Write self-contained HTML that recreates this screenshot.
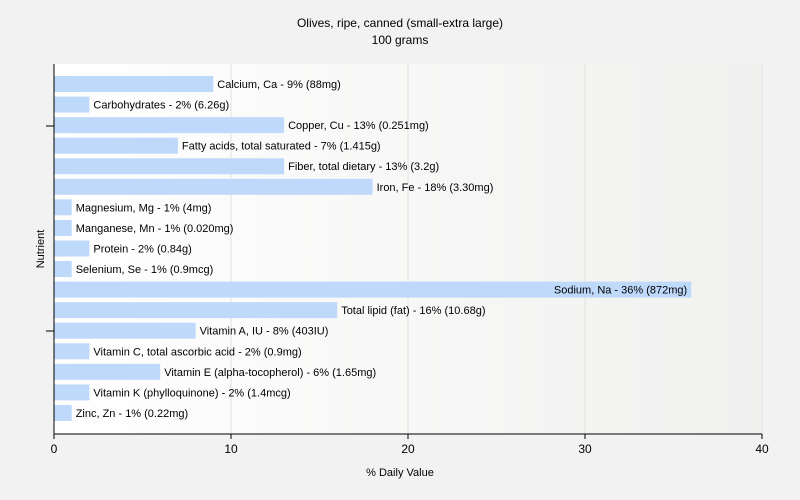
<!DOCTYPE html>
<html><head><meta charset="utf-8"><style>
body{margin:0;background:#f2f2f2;}
svg{display:block;font-family:"Liberation Sans",sans-serif;}
</style></head><body>
<svg id="chart" width="800" height="500">
<defs><linearGradient id="bg" x1="0" x2="1" y1="0" y2="0"><stop offset="0" stop-color="#ffffff"/><stop offset="1" stop-color="#f0f0ef"/></linearGradient></defs>
<rect width="800" height="500" fill="#f2f2f2"/>
<text x="400" y="27" text-anchor="middle" font-size="12">Olives, ripe, canned (small-extra large)</text>
<text x="400" y="44" text-anchor="middle" font-size="12">100 grams</text>
<rect x="54" y="64" width="708" height="370" fill="url(#bg)"/>
<g id="grid"></g><g id="bars"></g><g id="axes"></g>
<text x="400" y="476" text-anchor="middle" font-size="11">% Daily Value</text>
<text transform="translate(44,249) rotate(-90)" text-anchor="middle" font-size="11">Nutrient</text>
</svg>
<script>
const categories=["Calcium, Ca","Carbohydrates","Copper, Cu","Fatty acids, total saturated","Fiber, total dietary","Iron, Fe","Magnesium, Mg","Manganese, Mn","Protein","Selenium, Se","Sodium, Na","Total lipid (fat)","Vitamin A, IU","Vitamin C, total ascorbic acid","Vitamin E (alpha-tocopherol)","Vitamin K (phylloquinone)","Zinc, Zn"];
const values=[9,2,13,7,13,18,1,1,2,1,36,16,8,2,6,2,1];
const amounts=["88mg","6.26g","0.251mg","1.415g","3.2g","3.30mg","4mg","0.020mg","0.84g","0.9mcg","872mg","10.68g","403IU","0.9mg","1.65mg","1.4mcg","0.22mg"];
const ticks=[0,10,20,30,40];
const NS="http://www.w3.org/2000/svg";
const X0=54,X1=762,XMAX=40,TOP=76,STEP=20.56,BH=16,BOTTOM=434;
const xs=v=>X0+v/XMAX*(X1-X0);
const ys=i=>TOP+i*STEP;
function mk(tag,attrs,parent){const e=document.createElementNS(NS,tag);for(const k in attrs)e.setAttribute(k,attrs[k]);parent.appendChild(e);return e;}
const grid=document.getElementById('grid'),bars=document.getElementById('bars'),axes=document.getElementById('axes');
ticks.forEach(t=>{
 if(t>0){const g=mk('line',{x1:xs(t),x2:xs(t),y1:64,y2:BOTTOM,stroke:'#e2e2e2'},grid);
 
 }
 const tk=mk('line',{x1:xs(t),x2:xs(t),y1:BOTTOM,y2:BOTTOM+5,stroke:'#000'},axes);
 
 
 const tl=mk('text',{x:xs(t),y:BOTTOM+19,'text-anchor':'middle','font-size':12},axes);
 tl.textContent=t;
 
 
});
categories.forEach((c,i)=>{
 const w=xs(values[i])-X0;
 const r=mk('rect',{x:X0,y:ys(i),width:w,height:BH,fill:'#bfd9fb'},bars);
 
 
 const label=c+' - '+values[i]+'% ('+amounts[i]+')';
 const inside=values[i]>30;
 const t=mk('text',{x:inside?xs(values[i])-4:xs(values[i])+4,y:ys(i)+BH/2+4,'font-size':11,'text-anchor':inside?'end':'start'},bars);
 t.textContent=label;
 
 
});
const ax=mk('line',{x1:X0,x2:X1,y1:BOTTOM,y2:BOTTOM,stroke:'#000'},axes);


const ay=mk('line',{x1:X0,x2:X0,y1:64,y2:BOTTOM,stroke:'#000'},axes);


[126,331].forEach(y=>{const k=mk('line',{x1:46,x2:X0,y1:y,y2:y,stroke:'#000'},axes);
 
 });
</script>
</body></html>
